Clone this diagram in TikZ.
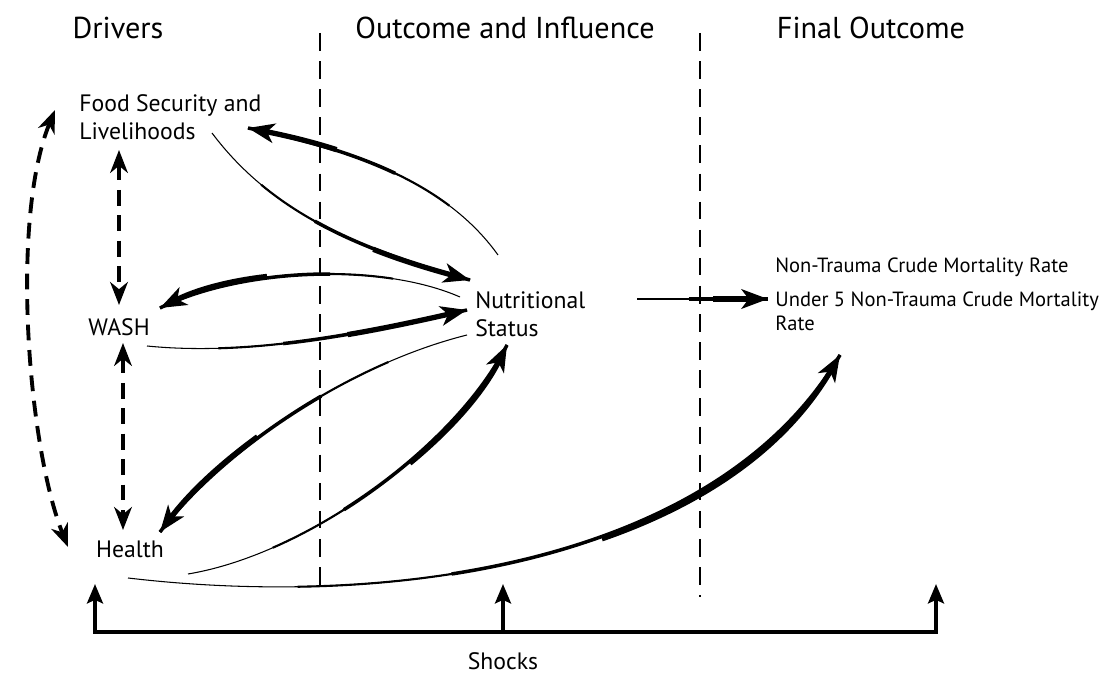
\documentclass[tikz,border=0pt]{standalone}
\usepackage{fontspec}
\setmainfont{PT Sans}
\usetikzlibrary{arrows.meta,calc}

\tikzset{
  head/.style={font=\fontsize{17.2}{20}\selectfont, inner sep=0pt},
  lbl/.style={font=\fontsize{13.5}{16}\selectfont, inner sep=0pt, align=left},
  rate/.style={font=\fontsize{11.7}{13.6}\selectfont, inner sep=0pt, align=left},
  flow/.style={line width=0.6pt,
    /utils/exec={\pgfmathsetlengthmacro\tpa{0.22*#1}%
      \pgfmathsetlengthmacro\tpb{0.42*#1}%
      \pgfmathsetlengthmacro\tpc{0.62*#1}},
    postaction={draw, line width=1.2pt, dash pattern=on 0pt off \tpa on 2000pt},
    postaction={draw, line width=2pt, dash pattern=on 0pt off \tpb on 2000pt},
    postaction={draw, line width=3pt, dash pattern=on 0pt off \tpc on 2000pt,
      -{Stealth[length=15pt,width=11pt,inset=4pt]}}},
  link/.style={line width=2.2pt, dash pattern=on 9pt off 5.5pt,
    {Stealth[length=13pt,width=10pt,inset=4pt]}-{Stealth[length=13pt,width=10pt,inset=4pt]}},
  divider/.style={line width=0.8pt, dash pattern=on 10pt off 6pt},
  shock/.style={line width=2.8pt, line join=miter},
}

\begin{document}
\begin{tikzpicture}[x=0.02cm, y=-0.02cm]
\useasboundingbox (0,0) rectangle (1100,675);

% column heads and dividers
\node[head] (drv) at (118,28) {Drivers};
\node[head] (oai) at (505,28) {Outcome and Influence};
\node[head] (fin) at (871,28) {Final Outcome};
\draw[divider] (320,33) -- (320,595);
\draw[divider] (700,33) -- (700,597);

% labels
\node[lbl, anchor=west] (fsl) at (79,117) {Food Security and\\Livelihoods};
\node[lbl] (wash) at (119,327) {WASH};
\node[lbl] (hlth) at (130,549) {Health};
\node[lbl, anchor=west] (nut) at (475,314) {Nutritional\\Status};
\node[rate, anchor=west] (cmr) at (775,267) {Non-Trauma Crude Mortality Rate};
\node[rate, anchor=north west] (u5) at (775,292) {Under 5 Non-Trauma Crude Mortality\\Rate};
\node[lbl] (shk) at (503,661) {Shocks};

% links between drivers
\draw[link] ($(fsl.west)+(-24,-7)$) .. controls +(-45,110) and +(-40,-100) .. ($(hlth)+(-62,-2)$);
\draw[link] ($(wash)+(0,-177)$) -- ($(wash)+(0,-22)$);
\draw[link] ($(wash)+(4,16)$) -- ($(hlth)+(-7,-19)$);

% drivers <-> nutrition
\draw[flow=180pt] ($(nut.west)+(23,-59)$) .. controls +(-50,-70) and +(110,22) .. ($(fsl.west)+(169,11)$);
\draw[flow=185pt] ($(fsl.west)+(133,16)$) .. controls +(60,80) and +(-110,-30) .. ($(nut.west)+(-5,-34)$);
\draw[flow=180pt] ($(nut.west)+(-15,-17)$) .. controls +(-80,-35) and +(80,-40) .. ($(wash)+(41,-19)$);
\draw[flow=185pt] ($(wash)+(28,19)$) .. controls +(100,10) and +(-110,25) .. ($(nut.west)+(-8,-4)$);
\draw[flow=215pt] ($(nut.west)+(-8,21)$) .. controls +(-120,30) and +(60,-80) .. ($(hlth)+(30,-17)$);
\draw[flow=230pt] ($(hlth)+(58,25)$) .. controls +(120,-20) and +(-50,100) .. ($(nut.west)+(32,31)$);

% to mortality
\draw[flow=440pt] ($(hlth)+(-2,29)$) .. controls +(272,32) and +(-120,205) .. ($(u5.north west)+(65,63)$);
\draw[flow=70pt] ($(nut.west)+(162,-15)$) -- ($(u5.north west)+(-7,7)$);

% shocks
\coordinate (sl) at ($(shk)+(-408,-29)$);
\coordinate (sr) at ($(shk)+(433,-29)$);
\draw[shock, {Stealth[length=11pt,width=9pt,inset=2pt]}-{Stealth[length=11pt,width=9pt,inset=2pt]}]
  ($(sl)+(0,-48)$) -- (sl) -- (sr) -- ($(sr)+(0,-48)$);
\draw[shock, -{Stealth[length=11pt,width=9pt,inset=2pt]}] (sl -| shk) -- ($(shk)+(0,-77)$);
\end{tikzpicture}
\end{document}
